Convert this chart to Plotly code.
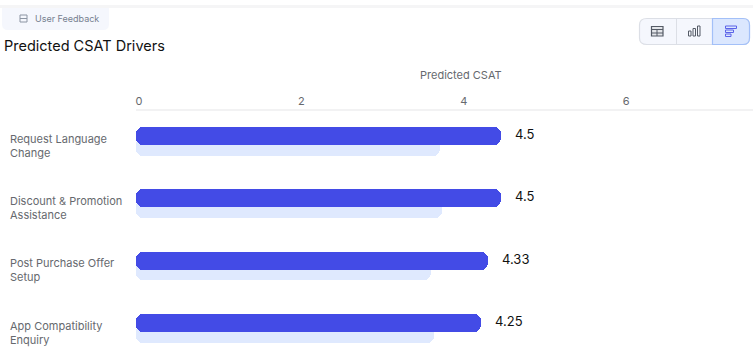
import plotly.graph_objects as go

categories = ["Request Language<br>Change", "Discount & Promotion<br>Assistance", "Post Purchase Offer<br>Setup", "App Compatibility<br>Enquiry"]
predicted = [4.5, 4.5, 4.33, 4.25]
actual = [3.74, 3.77, 3.63, 3.67]
labels = ["4.5", "4.5", "4.33", "4.25"]
ticks = [0, 2, 4, 6]

W, H = 753, 355
FONT = "Inter"
X0 = 136 / W
DARK, LIGHT = "#434be6", "#dfe9fe"
GREY = "#66696e"


def px(x):
    return x / W


def py(y):
    return 1 - y / H


fig = go.Figure()


def rounded_bar(values, color, width, offset):
    # two halves meeting mid-bar, so both outer ends get rounded corners
    fig.add_trace(go.Bar(y=categories, x=[v * 0.5 for v in values], base=[v * 0.5 for v in values],
                         orientation="h", width=width, offset=offset,
                         marker=dict(color=color, cornerradius=7, line_width=0), hoverinfo="skip"))
    fig.add_trace(go.Bar(y=categories, x=[-v * 0.6 for v in values], base=[v * 0.6 for v in values],
                         orientation="h", width=width, offset=offset,
                         marker=dict(color=color, cornerradius=7, line_width=0), hoverinfo="skip"))


rounded_bar(actual, LIGHT, 0.289, -0.125)
rounded_bar(predicted, DARK, 0.289, -0.3)

ann = []
for c, v, t in zip(categories, predicted, labels):
    ann.append(dict(x=v, y=c, xref="x", yref="y", text=t, showarrow=False, xanchor="left", yanchor="middle",
                    xshift=12, yshift=11.5, font=dict(family=FONT, size=13, color="#111111")))
    ann.append(dict(x=px(8), y=c, xref="paper", yref="y", text=c, showarrow=False, xanchor="left", yanchor="middle",
                    align="left", font=dict(family=FONT, size=11, color=GREY)))
ann.append(dict(x=px(2), y=py(45.5), xref="paper", yref="paper", text="Predicted CSAT Drivers", showarrow=False,
                xanchor="left", yanchor="middle", font=dict(family=FONT, size=14.5, color="#111111")))
ann.append(dict(x=px(33), y=py(18.5), xref="paper", yref="paper", text="User Feedback", showarrow=False,
                xanchor="left", yanchor="middle", font=dict(family=FONT, size=9, color="#76808f")))
ann.append(dict(x=px(461), y=py(75), xref="paper", yref="paper", text="Predicted CSAT", showarrow=False,
                yanchor="middle", font=dict(family=FONT, size=11, color=GREY)))

ICON = "#555b66"
ACCENT = "#5a62e8"
shapes = [
    dict(type="rect", xref="paper", yref="paper", x0=0, x1=1, y0=py(8), y1=py(5), fillcolor="#f5f5f6", line_width=0, layer="below"),
    dict(type="path", xref="paper", yref="paper",
         path=f"M {px(2)} {py(8)} L {px(109)} {py(8)} L {px(109)} {py(24)} Q {px(109)} {py(30)} {px(103)} {py(30)} L {px(8)} {py(30)} Q {px(2)} {py(30)} {px(2)} {py(24)} Z",
         fillcolor="#f5f7fd", line_width=0, layer="below"),
    dict(type="rect", xref="paper", yref="paper", x0=px(20), x1=px(27), y0=py(22), y1=py(15), line=dict(color="#8c95a3", width=1)),
    dict(type="line", xref="paper", yref="paper", x0=px(20), x1=px(27), y0=py(18.5), y1=py(18.5), line=dict(color="#8c95a3", width=1)),
    # toggle
    dict(type="path", xref="paper", yref="paper",
         path=f"M {px(647)} {py(18.5)} L {px(743)} {py(18.5)} Q {px(749.5)} {py(18.5)} {px(749.5)} {py(25)} L {px(749.5)} {py(38)} Q {px(749.5)} {py(44.5)} {px(743)} {py(44.5)} L {px(647)} {py(44.5)} Q {px(639.5)} {py(44.5)} {px(639.5)} {py(38)} L {px(639.5)} {py(25)} Q {px(639.5)} {py(18.5)} {px(647)} {py(18.5)} Z",
         fillcolor="#f5f7fd", line=dict(color="#dcdfe6", width=1.2)),
    dict(type="path", xref="paper", yref="paper",
         path=f"M {px(712.5)} {py(18.5)} L {px(743)} {py(18.5)} Q {px(749.5)} {py(18.5)} {px(749.5)} {py(25)} L {px(749.5)} {py(38)} Q {px(749.5)} {py(44.5)} {px(743)} {py(44.5)} L {px(712.5)} {py(44.5)} Z",
         fillcolor="#dbe7fe", line=dict(color="#a3c0f8", width=1.2)),
    dict(type="line", xref="paper", yref="paper", x0=px(676.5), x1=px(676.5), y0=py(18.5), y1=py(44.5), line=dict(color="#dcdfe6", width=1)),
    dict(type="rect", xref="paper", yref="paper", x0=px(651.5), x1=px(663), y0=py(26.5), y1=py(36), fillcolor="#e4e6ea", line=dict(color=ICON, width=1.2)),
    dict(type="line", xref="paper", yref="paper", x0=px(651.5), x1=px(663), y0=py(29.5), y1=py(29.5), line=dict(color=ICON, width=1)),
    dict(type="line", xref="paper", yref="paper", x0=px(651.5), x1=px(663), y0=py(33), y1=py(33), line=dict(color=ICON, width=1)),
    dict(type="line", xref="paper", yref="paper", x0=px(657), x1=px(657), y0=py(29.5), y1=py(36), line=dict(color=ICON, width=1)),
    dict(type="rect", xref="paper", yref="paper", x0=px(688.5), x1=px(691), y0=py(31), y1=py(36), line=dict(color=ICON, width=1)),
    dict(type="rect", xref="paper", yref="paper", x0=px(693), x1=px(695.5), y0=py(28.5), y1=py(36), line=dict(color=ICON, width=1)),
    dict(type="rect", xref="paper", yref="paper", x0=px(697.5), x1=px(700), y0=py(26), y1=py(36), line=dict(color=ICON, width=1)),
    dict(type="rect", xref="paper", yref="paper", x0=px(725.5), x1=px(736.5), y0=py(26), y1=py(28.5), line=dict(color=ACCENT, width=1)),
    dict(type="rect", xref="paper", yref="paper", x0=px(725.5), x1=px(733.5), y0=py(30), y1=py(32.5), line=dict(color=ACCENT, width=1)),
    dict(type="rect", xref="paper", yref="paper", x0=px(725.5), x1=px(731), y0=py(34), y1=py(36.5), line=dict(color=ACCENT, width=1)),
]

fig.update_layout(
    width=W, height=H, margin=dict(l=0, r=0, t=0, b=0),
    paper_bgcolor="white", plot_bgcolor="white",
    barmode="overlay", showlegend=False, bargap=0,
    annotations=ann, shapes=shapes,
    xaxis=dict(domain=[X0, 1], range=[0, (W - 136) / 81.2], side="top", anchor="free", position=py(110),
               automargin=False, tickvals=ticks, showgrid=False, zeroline=False, showline=True,
               linecolor="#f2f2f3", linewidth=2, ticks="", ticklabelshift=3, ticklabelstandoff=0,
               tickfont=dict(family=FONT, size=11, color=GREY), fixedrange=True),
    yaxis=dict(domain=[0, py(105)], automargin=False, categoryorder="array", categoryarray=categories, autorange=False,
               range=[3.36, -0.653], showticklabels=False, showgrid=False, zeroline=False, showline=False,
               ticks="", fixedrange=True),
)
fig.write_html("out.html", config={"displayModeBar": False}, post_script="document.body.style.margin='0';")
